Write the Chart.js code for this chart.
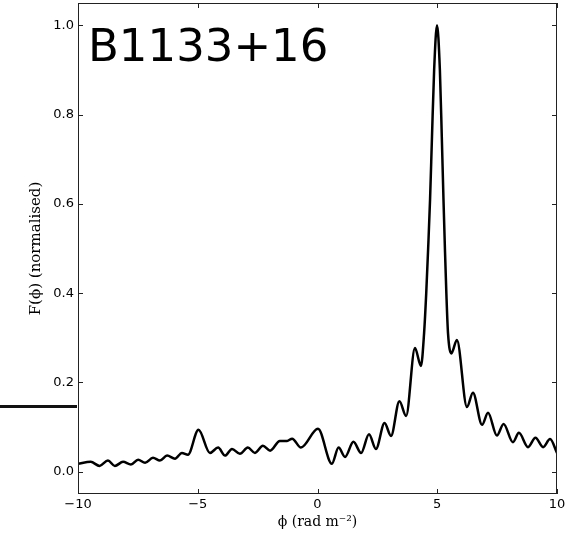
<!DOCTYPE html>
<html>
<head>
<meta charset="utf-8">
<script src="https://cdn.jsdelivr.net/npm/chart.js@4/dist/chart.umd.min.js"></script>
<style>
    html, body { margin: 0; padding: 0; background: #fff; }
    #wrap { position: relative; width: 575px; height: 544px; }
    /* trozo de la curva del panel vecino que asoma por la izquierda */
    #vecino { position: absolute; left: 0; top: 405px; width: 77px; height: 3px; background: #111; }
</style>
</head>
<body>
<div id="wrap">
    <canvas id="rmChart" width="575" height="544"></canvas>
    <div id="vecino"></div>
</div>
<script>
// Datos: profundidad de Faraday y amplitud normalizada
const phi = [
    -10, -9.47, -9.1, -8.75, -8.46, -8.12, -7.79, -7.49, -7.2, -6.87, -6.58, -6.28, -5.95, -5.66, -5.41,
    -4.97, -4.49, -4.15, -3.86, -3.57, -3.24, -2.91, -2.61, -2.28, -1.98, -1.57, -1.27, -1.06, -0.69,
    0.02, 0.6, 0.88, 1.15, 1.5, 1.82, 2.15, 2.44, 2.8, 3.07, 3.42, 3.7, 4.07, 4.32,
    4.45, 4.54, 4.62, 4.70, 4.78, 4.87, 4.99, 5.11, 5.19, 5.26, 5.32, 5.38, 5.45, 5.59,
    5.82, 6.24, 6.49, 6.87, 7.12, 7.49, 7.77, 8.16, 8.41, 8.79, 9.1, 9.42, 9.71, 10
];
const amplitud = [
    0.018, 0.022, 0.013, 0.025, 0.013, 0.022, 0.016, 0.027, 0.020, 0.031, 0.025, 0.036, 0.029, 0.042, 0.038,
    0.094, 0.042, 0.054, 0.036, 0.051, 0.040, 0.054, 0.042, 0.058, 0.047, 0.069, 0.069, 0.074, 0.054,
    0.096, 0.018, 0.054, 0.033, 0.067, 0.042, 0.084, 0.051, 0.109, 0.080, 0.158, 0.125, 0.277, 0.237,
    0.31, 0.40, 0.50, 0.61, 0.75, 0.90, 1.0, 0.90, 0.75, 0.61, 0.50, 0.40, 0.31, 0.265,
    0.295, 0.145, 0.177, 0.105, 0.132, 0.081, 0.107, 0.066, 0.087, 0.055, 0.076, 0.055, 0.073, 0.042
];
const xTicks = [-10, -5, 0, 5, 10];
const yTicks = [0, 0.2, 0.4, 0.6, 0.8, 1.0];
const etiqueta = 'B1133+16';

// Marco, marcas hacia dentro y nombre del púlsar
const marco = {
    id: 'marco',
    afterDraw(chart) {
        const { ctx, chartArea: a, scales: { x, y } } = chart;
        ctx.save();
        ctx.strokeStyle = '#222';
        ctx.lineWidth = 1;
        ctx.strokeRect(a.left + 0.5, a.top + 0.5, a.width - 1, a.height - 1);
        ctx.beginPath();
        xTicks.forEach(v => {
            const p = Math.round(x.getPixelForValue(v)) + 0.5;
            ctx.moveTo(p, a.bottom); ctx.lineTo(p, a.bottom - 5);
            ctx.moveTo(p, a.top); ctx.lineTo(p, a.top + 5);
        });
        yTicks.forEach(v => {
            const p = Math.round(y.getPixelForValue(v)) + 0.5;
            ctx.moveTo(a.left, p); ctx.lineTo(a.left + 5, p);
            ctx.moveTo(a.right, p); ctx.lineTo(a.right - 5, p);
        });
        ctx.stroke();
        ctx.fillStyle = '#000';
        ctx.font = '45px "DejaVu Sans"';
        ctx.textBaseline = 'alphabetic';
        ctx.fillText(etiqueta, a.left + 10, a.top + 58);
        ctx.restore();
    }
};

const ctx = document.getElementById('rmChart').getContext('2d');

new Chart(ctx, {
    type: 'line',
    data: {
        datasets: [{
            data: phi.map((v, i) => ({ x: v, y: amplitud[i] })),
            borderColor: '#000',
            borderWidth: 2.5,
            pointRadius: 0,
            fill: false,
            cubicInterpolationMode: 'monotone'
        }]
    },
    options: {
        responsive: false,
        animation: false,
        layout: { padding: { top: 3, right: 18, bottom: 0, left: 0 } },
        plugins: {
            legend: { display: false },
            tooltip: { enabled: false }
        },
        scales: {
            x: {
                type: 'linear',
                min: -10,
                max: 10,
                afterFit: s => { s.height = 50; s.paddingLeft = 0; s.paddingRight = 0; },
                afterBuildTicks: s => { s.ticks = xTicks.map(v => ({ value: v })); },
                grid: { display: false, drawTicks: false },
                border: { display: false },
                ticks: {
                    padding: 3,
                    color: '#000',
                    font: { family: 'DejaVu Sans', size: 13 },
                    callback: v => (v < 0 ? '\u2212' + Math.abs(v) : String(v))
                },
                title: {
                    display: true,
                    text: 'ϕ (rad m⁻²)',
                    color: '#000',
                    font: { family: 'DejaVu Serif', size: 14 },
                    padding: { top: 0, bottom: 13 }
                }
            },
            y: {
                min: -0.05,
                max: 1.05,
                afterFit: s => { s.width = 78; s.paddingTop = 0; s.paddingBottom = 0; },
                afterBuildTicks: s => { s.ticks = yTicks.map(v => ({ value: v })); },
                grid: { display: false, drawTicks: false },
                border: { display: false },
                ticks: {
                    padding: 4,
                    color: '#000',
                    font: { family: 'DejaVu Sans', size: 13 },
                    callback: v => v.toFixed(1)
                },
                title: {
                    display: true,
                    text: 'F(ϕ) (normalised)',
                    color: '#000',
                    font: { family: 'DejaVu Serif', size: 15 },
                    padding: { top: 27, bottom: 0 }
                }
            }
        }
    },
    plugins: [marco]
});
</script>
</body>
</html>
